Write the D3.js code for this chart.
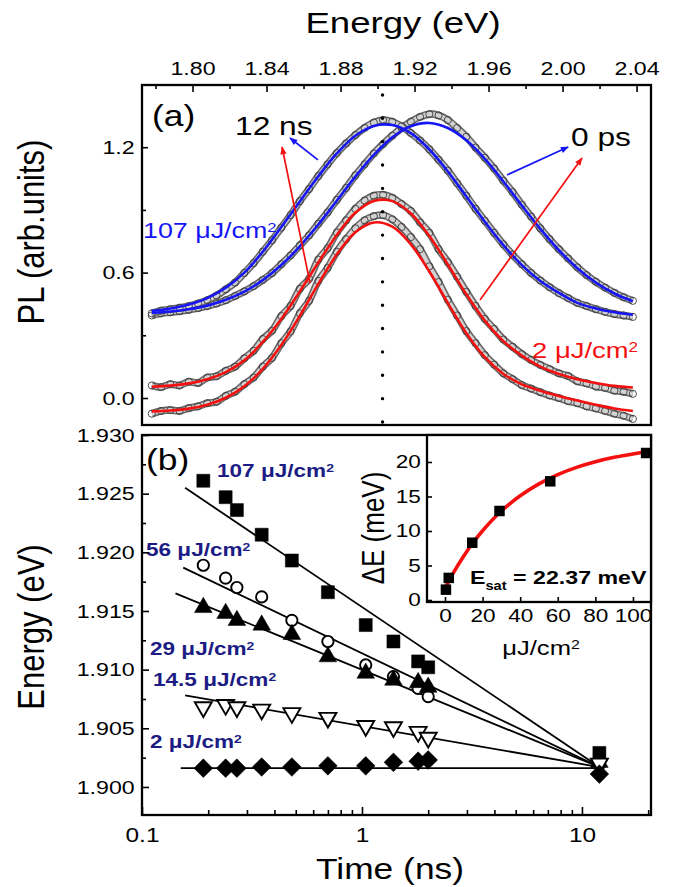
<!DOCTYPE html>
<html>
<head>
<meta charset="utf-8">
<title>PL spectra and peak energy vs delay</title>
<script src="https://cdn.jsdelivr.net/npm/d3@7"></script>
<style>
  body { margin: 0; background: #fff; }
  text { font-family: "Liberation Sans", Arial, Helvetica, sans-serif; fill: #000; }
</style>
</head>
<body>
<svg id="fig" width="685" height="887"></svg>
<script>
// ---- (a) PL spectra, data every 5 meV from 1.778 eV, fits every 10 meV ----
const specStart = 1.778;
const specStep = 0.005;
const fitStep = 0.01;

const plHigh0ps = [0.395,0.405,0.410,0.415,0.422,0.430,0.440,0.452,0.468,0.488,
  0.510,0.535,0.565,0.598,0.640,0.682,0.730,0.778,0.834,0.888,
  0.948,1.005,1.065,1.118,1.170,1.215,1.255,1.292,1.322,1.345,
  1.358,1.352,1.330,1.292,1.250,1.198,1.150,1.098,1.040,0.985,
  0.925,0.868,0.812,0.760,0.712,0.668,0.625,0.588,0.556,0.528,
  0.503,0.482,0.465];
const plHigh12ns = [0.405,0.418,0.425,0.432,0.440,0.452,0.468,0.490,0.520,0.552,
  0.598,0.645,0.700,0.755,0.815,0.875,0.942,1.000,1.062,1.118,
  1.172,1.218,1.258,1.292,1.318,1.330,1.322,1.300,1.268,1.232,
  1.190,1.140,1.088,1.028,0.968,0.905,0.848,0.790,0.735,0.685,
  0.640,0.598,0.562,0.530,0.502,0.478,0.455,0.440,0.425,0.412,
  0.402,0.395,0.388];
const plLow0ps = [0.060,0.052,0.066,0.060,0.078,0.072,0.098,0.104,0.130,0.150,
  0.190,0.226,0.282,0.322,0.392,0.440,0.522,0.570,0.662,0.716,
  0.792,0.850,0.905,0.945,0.968,0.972,0.958,0.928,0.895,0.840,
  0.790,0.712,0.650,0.580,0.508,0.440,0.378,0.330,0.280,0.245,
  0.210,0.182,0.158,0.138,0.118,0.105,0.080,0.070,0.055,0.048,
  0.035,0.030,0.020];
const plLow12ns = [-0.075,-0.062,-0.058,-0.062,-0.048,-0.040,-0.025,-0.018,0.010,0.030,
  0.066,0.098,0.150,0.192,0.262,0.318,0.405,0.465,0.560,0.622,
  0.700,0.760,0.812,0.850,0.870,0.875,0.855,0.818,0.770,0.712,
  0.630,0.555,0.470,0.395,0.320,0.262,0.205,0.160,0.118,0.090,
  0.062,0.045,0.028,0.012,0.000,-0.015,-0.025,-0.040,-0.050,-0.062,
  -0.075,-0.085,-0.100];

const fitHigh0ps = [0.407,0.414,0.425,0.442,0.470,0.509,0.564,0.636,0.726,0.830,0.944,1.059,1.163,1.247,
  1.300,1.316,1.292,1.233,1.144,1.036,0.921,0.809,0.707,0.621,0.552,0.500,0.463];
const fitHigh12ns = [0.416,0.428,0.447,0.478,0.528,0.600,0.700,0.818,0.940,1.061,1.170,1.255,1.302,1.306,
  1.267,1.189,1.084,0.964,0.843,0.731,0.636,0.560,0.503,0.455,0.428,0.410,0.398];
const fitLow0ps = [0.054,0.059,0.070,0.090,0.124,0.180,0.268,0.378,0.510,0.648,0.780,0.886,0.943,0.942,
  0.883,0.775,0.639,0.496,0.370,0.272,0.203,0.150,0.115,0.090,0.072,0.058,0.050];
const fitLow12ns = [-0.064,-0.060,-0.051,-0.032,0.001,0.056,0.139,0.253,0.393,0.546,0.687,0.793,0.840,0.820,
  0.735,0.605,0.454,0.310,0.195,0.115,0.065,0.035,0.010,-0.012,-0.032,-0.050,-0.062];

const energyTicks = [1.80, 1.84, 1.88, 1.92, 1.96, 2.00, 2.04];
const energyMinor = [1.78, 1.82, 1.86, 1.90, 1.94, 1.98, 2.02];
const plTicks = [0.0, 0.6, 1.2];
const plMinor = [0.3, 0.9];
const peakMarkE = 1.9027;

// ---- (b) peak energy vs delay ----
const times = [0.19, 0.24, 0.27, 0.35, 0.48, 0.70, 1.04, 1.39, 1.80, 2.0, 12];
const peak107 = [1.9261, 1.9247, 1.9236, 1.9215, 1.9193, 1.9166, 1.9138, 1.9124, 1.9107, 1.9102, 1.9029];
const peak56 = [1.9189, 1.9178, 1.9170, 1.9162, 1.9142, 1.9124, 1.9104, 1.9094, 1.9084, 1.9077, 1.9019];
const peak29 = [1.9153, 1.9148, 1.9142, 1.9138, 1.9130, 1.9111, 1.9097, 1.9091, 1.9089, 1.9085, 1.9021];
const peak14 = [1.9068, 1.9070, 1.9068, 1.9066, 1.9063, 1.9059, 1.9052, 1.9051, 1.9047, 1.9042, 1.9020];
const peak2 = [1.9016, 1.9016, 1.9016, 1.9017, 1.9017, 1.9018, 1.9018, 1.9021, 1.9022, 1.9023, 1.9011];

const lineStartT = [0.157, 0.154, 0.142, 0.157, 0.150];
const lineStartE = [1.9255, 1.9187, 1.9165, 1.9078, 1.9016];
const lineEndT = 12;
const lineEndE = [1.9017, 1.9017, 1.9017, 1.9017, 1.9016];

const peakTicks = [1.900, 1.905, 1.910, 1.915, 1.920, 1.925, 1.930];
const peakMinor = [1.9025, 1.9075, 1.9125, 1.9175, 1.9225, 1.9275];
const timeTicks = [0.1, 1, 10];
const timeMinor = [0.2, 0.3, 0.4, 0.5, 0.6, 0.7, 0.8, 0.9, 2, 3, 4, 5, 6, 7, 8, 9, 20];

// ---- inset: shift vs fluence ----
const fluence = [0.5, 2, 14.5, 29, 56, 107];
const shift = [1.5, 3.2, 8.3, 12.9, 17.2, 21.3];
const fitFluence = [0, 5, 10, 15, 20, 30, 40, 50, 60, 70, 80, 90, 100, 107];
const fitShift = [1.70, 4.19, 6.39, 8.33, 10.04, 12.89, 15.10, 16.83, 18.17, 19.22, 20.03, 20.67, 21.16, 21.44];
const shiftTicks = [0, 5, 10, 15, 20];
const fluenceTicks = [0, 20, 40, 60, 80, 100];

const BLUE = "#1515f5";
const RED = "#f51010";
const NAVY = "#1c1c84";
const SX = 1.22; // glyphs in the figure are stretched horizontally

const svg = d3.select("#fig");

const txt = (parent, x, y, str, size, opts = {}) => {
    const t = parent.append("text")
        .attr("transform", `translate(${x},${y}) scale(${SX},1)` + (opts.rotate ? ` rotate(${opts.rotate})` : ""))
        .attr("text-anchor", opts.anchor || "start")
        .style("font-size", size + "px")
        .style("font-weight", opts.bold ? "bold" : "normal")
        .style("fill", opts.color || "#000");
    t.append("tspan").text(str);
    if (opts.sup) {
        t.append("tspan").attr("dy", "-0.45em").style("font-size", "0.62em").text(opts.sup);
    }
    return t;
};

const axisDraw = (g, axis, fontSize) => {
    g.call(axis);
    g.select(".domain").remove();
    g.selectAll(".tick line").attr("stroke", "#000").attr("stroke-width", 1.6);
    g.selectAll(".tick text")
        .attr("transform", `scale(${SX},1)`)
        .style("font-size", fontSize + "px")
        .attr("fill", "#000")
        .attr("font-family", null);
    g.attr("font-family", null).attr("font-size", null);
};

// ================= panel (a) =================
const xA = d3.scaleLinear([1.7727, 2.0478], [142, 651]);
const yA = d3.scaleLinear([-0.1292, 1.4976], [425, 85]);
const gA = svg.append("g");

const lineA = d3.line().x(d => xA(d[0])).y(d => yA(d[1])).curve(d3.curveCatmullRom);
const specPts = vals => vals.map((v, i) => [specStart + i * specStep, v]);
const fitPts = vals => vals.map((v, i) => [specStart + i * fitStep, v]);

[plHigh0ps, plHigh12ns, plLow0ps, plLow12ns].forEach(vals => {
    const pts = specPts(vals);
    gA.append("path").attr("d", lineA(pts)).attr("fill", "none")
        .attr("stroke", "#6a6a6a").attr("stroke-width", 7.5);
    gA.append("path").attr("d", lineA(pts)).attr("fill", "none")
        .attr("stroke", "#d2d2d2").attr("stroke-width", 4.2);
    gA.append("g").selectAll("circle").data(pts).enter()
        .append("circle")
        .attr("cx", d => xA(d[0]))
        .attr("cy", d => yA(d[1]))
        .attr("r", 3.6)
        .attr("fill", "none")
        .attr("stroke", "#3c3c3c")
        .attr("stroke-width", 0.9);
});

// dotted marker at the low-fluence peak
gA.append("line")
    .attr("x1", xA(peakMarkE)).attr("x2", xA(peakMarkE))
    .attr("y1", yA(1.45)).attr("y2", yA(-0.117))
    .attr("stroke", "#000").attr("stroke-width", 3.4)
    .attr("stroke-linecap", "round").attr("stroke-dasharray", "0 23.36");

[[fitHigh0ps, BLUE], [fitHigh12ns, BLUE], [fitLow0ps, RED], [fitLow12ns, RED]].forEach(([vals, col]) => {
    gA.append("path").attr("d", lineA(fitPts(vals))).attr("fill", "none")
        .attr("stroke", col).attr("stroke-width", 2.6);
});

// arrows
const defs = svg.append("defs");
[["blue", BLUE], ["red", RED]].forEach(([id, col]) => {
    defs.append("marker").attr("id", "head-" + id)
        .attr("viewBox", "0 0 10 10").attr("refX", 9).attr("refY", 5)
        .attr("markerWidth", 10).attr("markerHeight", 8)
        .attr("markerUnits", "userSpaceOnUse").attr("orient", "auto")
        .append("path").attr("d", "M0,1 L10,5 L0,9 Z").attr("fill", col);
});
const arrows = [
    { from: [1.8678, 1.139], to: [1.8527, 1.244], id: "blue", col: BLUE },
    { from: [1.8635, 0.550], to: [1.8484, 1.201], id: "red", col: RED },
    { from: [1.9700, 1.067], to: [2.0030, 1.201], id: "blue", col: BLUE },
    { from: [1.9554, 0.469], to: [2.0105, 1.148], id: "red", col: RED }
];
arrows.forEach(a => {
    gA.append("line")
        .attr("x1", xA(a.from[0])).attr("y1", yA(a.from[1]))
        .attr("x2", xA(a.to[0])).attr("y2", yA(a.to[1]))
        .attr("stroke", a.col).attr("stroke-width", 1.7)
        .attr("marker-end", `url(#head-${a.id})`);
});

txt(gA, 152, 126, "(a)", 29);
txt(gA, 235, 135, "12 ns", 26);
txt(gA, 571, 146, "0 ps", 26);
txt(gA, 143, 238, "107 \u03bcJ/cm", 22, { color: BLUE, sup: "2" });
txt(gA, 532, 358, "2 \u03bcJ/cm", 22.5, { color: RED, sup: "2" });

const gTop = gA.append("g").attr("transform", "translate(0,85)");
axisDraw(gTop, d3.axisTop(xA).tickValues(energyTicks).tickSize(-7).tickPadding(10).tickFormat(d3.format(".2f")), 19);
const gTopMinor = gA.append("g").attr("transform", "translate(0,85)");
axisDraw(gTopMinor, d3.axisTop(xA).tickValues(energyMinor.filter(e => e > 1.774)).tickSize(-4).tickFormat(""), 19);

const gLeftA = gA.append("g").attr("transform", "translate(142,0)");
axisDraw(gLeftA, d3.axisLeft(yA).tickValues(plTicks).tickSize(-6).tickPadding(6).tickFormat(d3.format(".1f")), 19);
const gLeftAMinor = gA.append("g").attr("transform", "translate(142,0)");
axisDraw(gLeftAMinor, d3.axisLeft(yA).tickValues(plMinor).tickSize(-4).tickFormat(""), 19);

gA.append("rect").attr("x", 142).attr("y", 85).attr("width", 509).attr("height", 340)
    .attr("fill", "none").attr("stroke", "#000").attr("stroke-width", 2.3);

txt(gA, 403, 33, "Energy (eV)", 30, { anchor: "middle" });
txt(gA, 44, 232, "PL (arb.units)", 31, { anchor: "middle", rotate: -90 });

// ================= panel (b) =================
const xB = d3.scaleLog([0.1, 20.6], [142, 651]);
const yB = d3.scaleLinear([1.89761, 1.930], [815, 435]);
const gB = svg.append("g");

const series = [peak107, peak56, peak29, peak14, peak2];
series.forEach((s, i) => {
    gB.append("line")
        .attr("x1", xB(lineStartT[i])).attr("y1", yB(lineStartE[i]))
        .attr("x2", xB(lineEndT)).attr("y2", yB(lineEndE[i]))
        .attr("stroke", "#000").attr("stroke-width", 1.8);
});

const symbols = [
    { type: d3.symbolSquare, size: 170, fill: "#000", rot: 0 },
    { type: d3.symbolCircle, size: 100, fill: "#fff", rot: 0 },
    { type: d3.symbolTriangle, size: 135, fill: "#000", rot: 0 },
    { type: d3.symbolTriangle, size: 125, fill: "#fff", rot: 180 },
    { type: d3.symbolSquare, size: 175, fill: "#000", rot: 45 }
];
series.forEach((s, i) => {
    const sym = symbols[i];
    gB.append("g").selectAll("path").data(times.map((t, j) => [t, s[j]])).enter()
        .append("path")
        .attr("d", d3.symbol(sym.type, sym.size))
        .attr("transform", d => `translate(${xB(d[0])},${yB(d[1])}) rotate(${sym.rot})`)
        .attr("fill", sym.fill)
        .attr("stroke", "#000")
        .attr("stroke-width", sym.fill === "#fff" ? 1.9 : 0.5);
});

txt(gB, 146, 470, "(b)", 29);
txt(gB, 217, 477, "107 \u03bcJ/cm", 18.5, { color: NAVY, bold: true, sup: "2" });
txt(gB, 146, 556, "56 \u03bcJ/cm", 18.5, { color: NAVY, bold: true, sup: "2" });
txt(gB, 150, 655, "29 \u03bcJ/cm", 18.5, { color: NAVY, bold: true, sup: "2" });
txt(gB, 153, 686, "14.5 \u03bcJ/cm", 18.5, { color: NAVY, bold: true, sup: "2" });
txt(gB, 150, 748, "2 \u03bcJ/cm", 18.5, { color: NAVY, bold: true, sup: "2" });

const gBot = gB.append("g").attr("transform", "translate(0,815)");
axisDraw(gBot, d3.axisBottom(xB).tickValues(timeTicks).tickSize(-8).tickPadding(13).tickFormat(d3.format("~g")), 20);
const gBotMinor = gB.append("g").attr("transform", "translate(0,815)");
axisDraw(gBotMinor, d3.axisBottom(xB).tickValues(timeMinor).tickSize(-5).tickFormat(""), 20);

const gLeftB = gB.append("g").attr("transform", "translate(142,0)");
axisDraw(gLeftB, d3.axisLeft(yB).tickValues(peakTicks).tickSize(-7).tickPadding(6).tickFormat(d3.format(".3f")), 19);
const gLeftBMinor = gB.append("g").attr("transform", "translate(142,0)");
axisDraw(gLeftBMinor, d3.axisLeft(yB).tickValues(peakMinor).tickSize(-4).tickFormat(""), 19);

gB.append("rect").attr("x", 142).attr("y", 435).attr("width", 509).attr("height", 380)
    .attr("fill", "none").attr("stroke", "#000").attr("stroke-width", 2.3);

txt(gB, 390, 879, "Time (ns)", 29, { anchor: "middle" });
txt(gB, 44, 627, "Energy (eV)", 31, { anchor: "middle", rotate: -90 });

// ================= inset =================
const xI = d3.scaleLinear([-9.57, 109.6], [427, 651]);
const yI = d3.scaleLinear([-0.29, 23.91], [602, 435]);
const gI = svg.append("g");

gI.append("rect").attr("x", 427).attr("y", 435).attr("width", 224).attr("height", 167)
    .attr("fill", "#fff").attr("stroke", "#000").attr("stroke-width", 2.3);

gI.append("path")
    .attr("d", d3.line().x(d => xI(d[0])).y(d => yI(d[1])).curve(d3.curveCatmullRom)(fitFluence.map((f, i) => [f, fitShift[i]])))
    .attr("fill", "none").attr("stroke", RED).attr("stroke-width", 3.6);

gI.append("g").selectAll("path").data(fluence.map((f, i) => [f, shift[i]])).enter()
    .append("path")
    .attr("d", d3.symbol(d3.symbolSquare, 110))
    .attr("transform", d => `translate(${xI(d[0])},${yI(d[1])})`)
    .attr("fill", "#000");

const gILeft = gI.append("g").attr("transform", "translate(427,0)");
axisDraw(gILeft, d3.axisLeft(yI).tickValues(shiftTicks).tickSize(-5).tickPadding(5), 18.5);
const gIBot = gI.append("g").attr("transform", "translate(0,602)");
axisDraw(gIBot, d3.axisBottom(xI).tickValues(fluenceTicks).tickSize(-5).tickPadding(7), 18.5);

const es = gI.append("text")
    .attr("transform", `translate(470,584) scale(${SX},1)`)
    .style("font-size", "19px").style("font-weight", "bold");
es.append("tspan").text("E");
es.append("tspan").attr("dy", 6).style("font-size", "12px").text("sat");
es.append("tspan").attr("dy", -6).text(" = 22.37 meV");

txt(gI, 384, 528, "\u0394E (meV)", 26, { anchor: "middle", rotate: -90 });
txt(gI, 541, 655, "\u03bcJ/cm", 21, { anchor: "middle", sup: "2" });
</script>
</body>
</html>
